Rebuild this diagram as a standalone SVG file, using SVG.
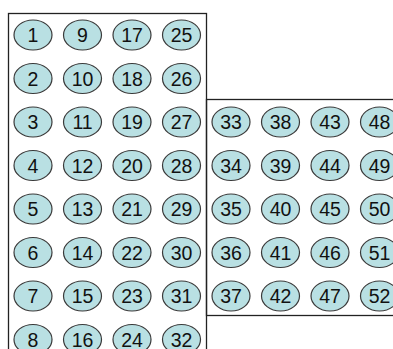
<svg xmlns="http://www.w3.org/2000/svg" width="393" height="349" viewBox="0 0 393 349">
<style>
.box{fill:none;stroke:#222;stroke-width:1.3}
.n ellipse{fill:#b9e0e3;stroke:#3a3a3a;stroke-width:1.2}
.n text{font-family:"Liberation Sans",Arial,sans-serif;font-size:19.5px;fill:#111;text-anchor:middle}
</style>
<rect width="393" height="349" fill="#fff"/>
<g id="frames">
<rect class="box" x="8.5" y="13.5" width="198" height="345"/>
<rect class="box" x="206.5" y="99.5" width="200" height="216"/>
</g>
<g id="connectors"></g>
<g id="n1" class="n"><ellipse cx="33" cy="35" rx="19" ry="15"/><text x="33" y="42">1</text></g>
<g id="n2" class="n"><ellipse cx="33" cy="78.5" rx="19" ry="15"/><text x="33" y="85.5">2</text></g>
<g id="n3" class="n"><ellipse cx="33" cy="122" rx="19" ry="15"/><text x="33" y="129">3</text></g>
<g id="n4" class="n"><ellipse cx="33" cy="165.5" rx="19" ry="15"/><text x="33" y="172.5">4</text></g>
<g id="n5" class="n"><ellipse cx="33" cy="209" rx="19" ry="15"/><text x="33" y="216">5</text></g>
<g id="n6" class="n"><ellipse cx="33" cy="252.5" rx="19" ry="15"/><text x="33" y="259.5">6</text></g>
<g id="n7" class="n"><ellipse cx="33" cy="296" rx="19" ry="15"/><text x="33" y="303">7</text></g>
<g id="n8" class="n"><ellipse cx="33" cy="339.5" rx="19" ry="15"/><text x="33" y="346.5">8</text></g>
<g id="n9" class="n"><ellipse cx="82.5" cy="35" rx="19" ry="15"/><text x="82.5" y="42">9</text></g>
<g id="n10" class="n"><ellipse cx="82.5" cy="78.5" rx="19" ry="15"/><text x="82.5" y="85.5">10</text></g>
<g id="n11" class="n"><ellipse cx="82.5" cy="122" rx="19" ry="15"/><text x="82.5" y="129">11</text></g>
<g id="n12" class="n"><ellipse cx="82.5" cy="165.5" rx="19" ry="15"/><text x="82.5" y="172.5">12</text></g>
<g id="n13" class="n"><ellipse cx="82.5" cy="209" rx="19" ry="15"/><text x="82.5" y="216">13</text></g>
<g id="n14" class="n"><ellipse cx="82.5" cy="252.5" rx="19" ry="15"/><text x="82.5" y="259.5">14</text></g>
<g id="n15" class="n"><ellipse cx="82.5" cy="296" rx="19" ry="15"/><text x="82.5" y="303">15</text></g>
<g id="n16" class="n"><ellipse cx="82.5" cy="339.5" rx="19" ry="15"/><text x="82.5" y="346.5">16</text></g>
<g id="n17" class="n"><ellipse cx="132" cy="35" rx="19" ry="15"/><text x="132" y="42">17</text></g>
<g id="n18" class="n"><ellipse cx="132" cy="78.5" rx="19" ry="15"/><text x="132" y="85.5">18</text></g>
<g id="n19" class="n"><ellipse cx="132" cy="122" rx="19" ry="15"/><text x="132" y="129">19</text></g>
<g id="n20" class="n"><ellipse cx="132" cy="165.5" rx="19" ry="15"/><text x="132" y="172.5">20</text></g>
<g id="n21" class="n"><ellipse cx="132" cy="209" rx="19" ry="15"/><text x="132" y="216">21</text></g>
<g id="n22" class="n"><ellipse cx="132" cy="252.5" rx="19" ry="15"/><text x="132" y="259.5">22</text></g>
<g id="n23" class="n"><ellipse cx="132" cy="296" rx="19" ry="15"/><text x="132" y="303">23</text></g>
<g id="n24" class="n"><ellipse cx="132" cy="339.5" rx="19" ry="15"/><text x="132" y="346.5">24</text></g>
<g id="n25" class="n"><ellipse cx="181.5" cy="35" rx="19" ry="15"/><text x="181.5" y="42">25</text></g>
<g id="n26" class="n"><ellipse cx="181.5" cy="78.5" rx="19" ry="15"/><text x="181.5" y="85.5">26</text></g>
<g id="n27" class="n"><ellipse cx="181.5" cy="122" rx="19" ry="15"/><text x="181.5" y="129">27</text></g>
<g id="n28" class="n"><ellipse cx="181.5" cy="165.5" rx="19" ry="15"/><text x="181.5" y="172.5">28</text></g>
<g id="n29" class="n"><ellipse cx="181.5" cy="209" rx="19" ry="15"/><text x="181.5" y="216">29</text></g>
<g id="n30" class="n"><ellipse cx="181.5" cy="252.5" rx="19" ry="15"/><text x="181.5" y="259.5">30</text></g>
<g id="n31" class="n"><ellipse cx="181.5" cy="296" rx="19" ry="15"/><text x="181.5" y="303">31</text></g>
<g id="n32" class="n"><ellipse cx="181.5" cy="339.5" rx="19" ry="15"/><text x="181.5" y="346.5">32</text></g>
<g id="n33" class="n"><ellipse cx="231" cy="122" rx="19" ry="15"/><text x="231" y="129">33</text></g>
<g id="n34" class="n"><ellipse cx="231" cy="165.5" rx="19" ry="15"/><text x="231" y="172.5">34</text></g>
<g id="n35" class="n"><ellipse cx="231" cy="209" rx="19" ry="15"/><text x="231" y="216">35</text></g>
<g id="n36" class="n"><ellipse cx="231" cy="252.5" rx="19" ry="15"/><text x="231" y="259.5">36</text></g>
<g id="n37" class="n"><ellipse cx="231" cy="296" rx="19" ry="15"/><text x="231" y="303">37</text></g>
<g id="n38" class="n"><ellipse cx="280.5" cy="122" rx="19" ry="15"/><text x="280.5" y="129">38</text></g>
<g id="n39" class="n"><ellipse cx="280.5" cy="165.5" rx="19" ry="15"/><text x="280.5" y="172.5">39</text></g>
<g id="n40" class="n"><ellipse cx="280.5" cy="209" rx="19" ry="15"/><text x="280.5" y="216">40</text></g>
<g id="n41" class="n"><ellipse cx="280.5" cy="252.5" rx="19" ry="15"/><text x="280.5" y="259.5">41</text></g>
<g id="n42" class="n"><ellipse cx="280.5" cy="296" rx="19" ry="15"/><text x="280.5" y="303">42</text></g>
<g id="n43" class="n"><ellipse cx="330" cy="122" rx="19" ry="15"/><text x="330" y="129">43</text></g>
<g id="n44" class="n"><ellipse cx="330" cy="165.5" rx="19" ry="15"/><text x="330" y="172.5">44</text></g>
<g id="n45" class="n"><ellipse cx="330" cy="209" rx="19" ry="15"/><text x="330" y="216">45</text></g>
<g id="n46" class="n"><ellipse cx="330" cy="252.5" rx="19" ry="15"/><text x="330" y="259.5">46</text></g>
<g id="n47" class="n"><ellipse cx="330" cy="296" rx="19" ry="15"/><text x="330" y="303">47</text></g>
<g id="n48" class="n"><ellipse cx="379.5" cy="122" rx="19" ry="15"/><text x="379.5" y="129">48</text></g>
<g id="n49" class="n"><ellipse cx="379.5" cy="165.5" rx="19" ry="15"/><text x="379.5" y="172.5">49</text></g>
<g id="n50" class="n"><ellipse cx="379.5" cy="209" rx="19" ry="15"/><text x="379.5" y="216">50</text></g>
<g id="n51" class="n"><ellipse cx="379.5" cy="252.5" rx="19" ry="15"/><text x="379.5" y="259.5">51</text></g>
<g id="n52" class="n"><ellipse cx="379.5" cy="296" rx="19" ry="15"/><text x="379.5" y="303">52</text></g>
</svg>
